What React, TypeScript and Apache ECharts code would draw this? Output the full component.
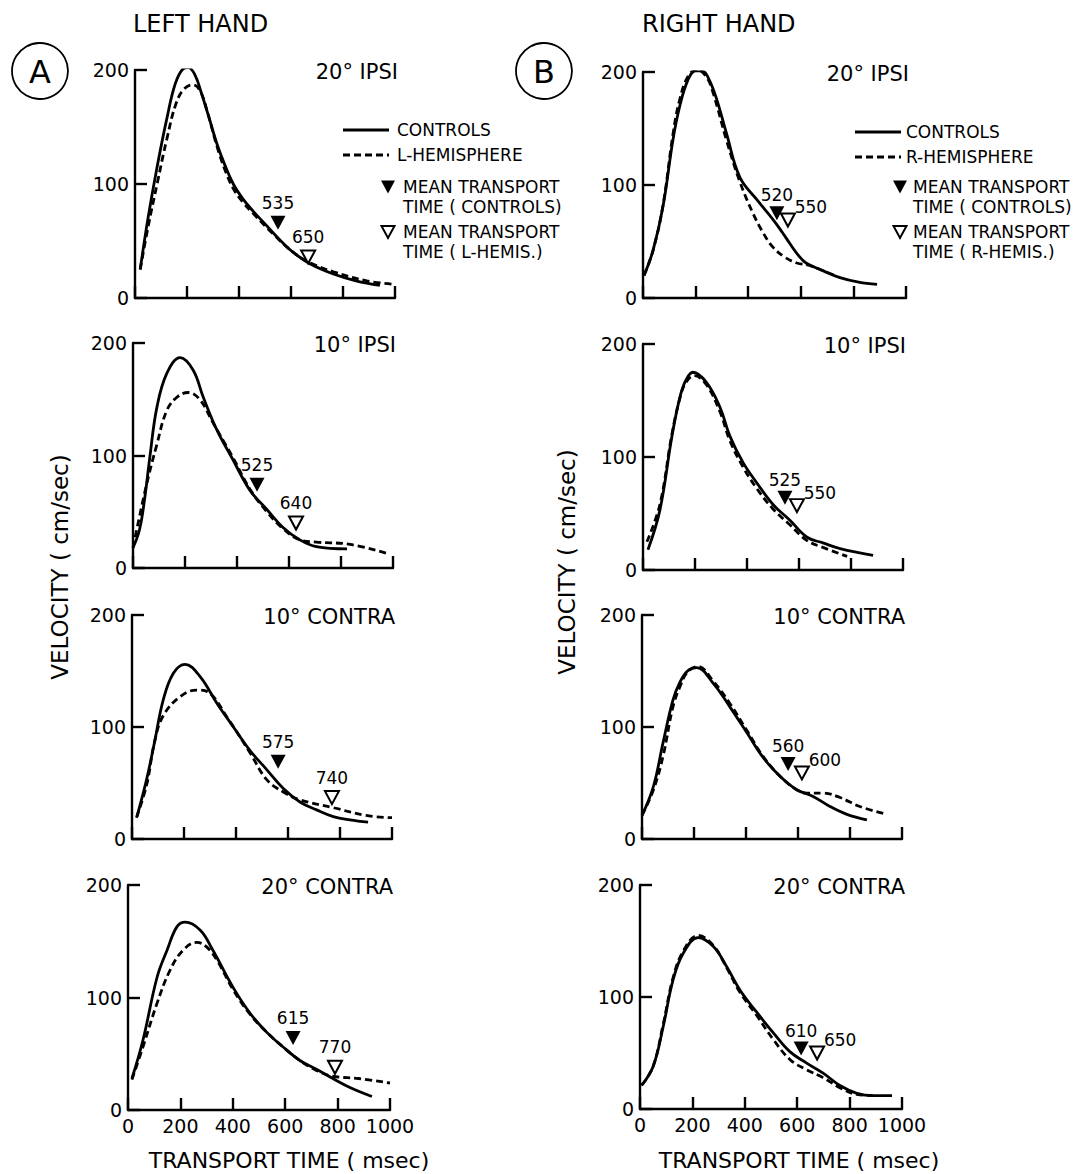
import React, { useEffect, useRef } from "react";
import * as echarts from "echarts";

const FONT = '"DejaVu Sans", "Liberation Sans", sans-serif';

// ---- texts ----
const columnTitles = ["LEFT HAND", "RIGHT HAND"];
const columnLetters = ["A", "B"];
const panelTitles = ["20° IPSI", "10° IPSI", "10° CONTRA", "20° CONTRA"];
const patientNames = ["L-HEMISPHERE", "R-HEMISPHERE"];
const patientShort = ["L-HEMIS.", "R-HEMIS."];
const xAxisTitle = "TRANSPORT TIME ( msec)";
const yAxisTitle = "VELOCITY ( cm/sec)";

// ---- axis ranges ----
const xMin = 0, xMax = 1000, xStep = 200;
const yMin = 0, yMax = 200, yStep = 100;

// ---- curves: [transport time ms, velocity cm/s] ----
const leftCtrl20Ipsi = [[20,25],[50,70],[85,115],[123,158],[155,188],[185,201],[205,202],[230,196],[255,180],[285,158],[314,136],[345,117],[378,100],[415,87],[455,76],[500,65],[532,57],[570,48],[609,40],[673,30],[763,21],[850,15],[942,11]];
const leftHemi20Ipsi = [[20,25],[50,62],[85,100],[123,140],[160,172],[192,184],[223,187],[250,182],[280,162],[314,134],[345,113],[378,96],[415,84],[455,74],[532,56],[609,40],[673,31],[763,23],[892,15],[1000,12]];

const leftCtrl10Ipsi = [[0,18],[25,34],[45,62],[65,99],[92,143],[130,173],[181,187],[231,176],[270,152],[322,123],[385,96],[450,69],[515,52],[577,36],[642,25],[705,19],[823,17]];
const leftHemi10Ipsi = [[0,18],[50,72],[92,110],[130,140],[170,152],[212,156],[256,150],[308,129],[350,112],[385,98],[450,70],[515,50],[577,35],[642,25],[705,23],[835,21],[977,13]];

const leftCtrl10Contra = [[19,20],[56,53],[88,88],[120,124],[159,148],[204,156],[262,145],[327,121],[390,100],[454,79],[518,62],[582,45],[646,33],[710,26],[774,20],[838,17],[908,15]];
const leftHemi10Contra = [[17,19],[56,48],[88,88],[120,110],[185,127],[250,133],[300,130],[365,109],[454,77],[518,53],[582,42],[646,35],[774,28],[900,21],[1000,19]];

const leftCtrl20Contra = [[15,28],[57,62],[111,118],[149,142],[187,163],[218,167],[275,160],[324,142],[401,109],[466,86],[530,69],[592,56],[656,44],[721,36],[782,28],[847,20],[931,12]];
const leftHemi20Contra = [[15,27],[57,56],[111,95],[160,124],[210,142],[263,149],[300,145],[340,133],[401,107],[466,85],[530,69],[592,56],[656,44],[721,35],[782,30],[880,28],[1000,24]];

const rightCtrl20Ipsi = [[4,20],[38,42],[76,81],[114,140],[139,169],[171,193],[200,201],[225,201],[250,194],[280,176],[317,146],[368,107],[433,87],[496,69],[530,58],[559,48],[590,38],[620,31],[686,24],[749,18],[820,14],[890,12]];
const rightHemi20Ipsi = [[4,20],[38,42],[76,82],[114,145],[139,175],[171,196],[205,202],[240,196],[266,182],[317,140],[368,103],[418,75],[456,58],[494,45],[540,36],[585,31],[630,29],[686,24],[740,19]];

const rightCtrl10Ipsi = [[19,18],[65,53],[111,118],[142,153],[165,168],[192,175],[244,166],[296,144],[335,118],[385,95],[438,77],[500,58],[565,44],[631,29],[692,24],[758,19],[885,13]];
const rightHemi10Ipsi = [[15,25],[65,58],[111,120],[142,152],[165,166],[197,172],[244,164],[296,140],[335,114],[385,91],[438,72],[500,54],[565,40],[631,26],[692,20],[785,12]];

const rightCtrl10Contra = [[0,21],[44,47],[81,86],[119,124],[146,140],[175,150],[210,153],[274,139],[338,118],[403,95],[465,73],[531,56],[595,44],[658,38],[723,29],[788,22],[865,17]];
const rightHemi10Contra = [[0,21],[44,44],[81,74],[119,118],[146,136],[175,149],[215,154],[274,141],[338,121],[403,97],[465,74],[531,56],[595,44],[635,41],[697,41],[762,37],[838,29],[942,22]];

const rightCtrl20Contra = [[6,21],[50,38],[88,73],[126,115],[165,139],[222,153],[280,145],[331,127],[382,106],[447,86],[509,68],[573,51],[636,41],[699,32],[763,21],[828,14],[890,12],[962,12]];
const rightHemi20Contra = [[6,21],[50,38],[88,75],[126,117],[165,141],[222,155],[280,146],[331,126],[382,104],[447,83],[509,62],[573,44],[636,35],[699,28],[763,19],[828,13],[889,12]];

// ---- mean transport times (labels) ----
const leftMeanCtrl = [535, 525, 575, 615];
const leftMeanHemi = [650, 640, 740, 770];
const rightMeanCtrl = [520, 525, 560, 610];
const rightMeanHemi = [550, 550, 600, 650];

// ---- where the mean markers are drawn [ms, cm/s] ----
const leftCtrlMarker = [[550,66],[477,74],[562,69],[630,64]];
const leftHemiMarker = [[666,36],[627,40],[769,37],[790,38]];
const rightCtrlMarker = [[509,75],[546,64],[562,67],[615,54]];
const rightHemiMarker = [[551,69],[592,57],[615,59],[676,50]];

// ---- layout ----
const GRIDS = [
  { left: 135, top: 70, width: 260, height: 228 },
  { left: 133, top: 343, width: 260, height: 225 },
  { left: 132, top: 615, width: 260, height: 224 },
  { left: 128, top: 885, width: 262, height: 225 },
  { left: 643, top: 72, width: 263, height: 226 },
  { left: 643, top: 344, width: 260, height: 226 },
  { left: 642, top: 615, width: 260, height: 224 },
  { left: 640, top: 885, width: 262, height: 224 },
];

const ctrlCurves = [leftCtrl20Ipsi, leftCtrl10Ipsi, leftCtrl10Contra, leftCtrl20Contra, rightCtrl20Ipsi, rightCtrl10Ipsi, rightCtrl10Contra, rightCtrl20Contra];
const hemiCurves = [leftHemi20Ipsi, leftHemi10Ipsi, leftHemi10Contra, leftHemi20Contra, rightHemi20Ipsi, rightHemi10Ipsi, rightHemi10Contra, rightHemi20Contra];
const meanCtrl = [...leftMeanCtrl, ...rightMeanCtrl];
const meanHemi = [...leftMeanHemi, ...rightMeanHemi];
const ctrlMarkers = [...leftCtrlMarker, ...rightCtrlMarker];
const hemiMarkers = [...leftHemiMarker, ...rightHemiMarker];

const LINE_W = 2.8;
const AXIS_W = 2.4;
const DASH = [7, 4];

function buildOption() {
  const grid: any[] = [];
  const xAxis: any[] = [];
  const yAxis: any[] = [];
  const series: any[] = [];
  const graphic: any[] = [];

  GRIDS.forEach((g, i) => {
    const row = i % 4;
    const col = Math.floor(i / 4);
    grid.push({ ...g, containLabel: false });
    xAxis.push({
      gridIndex: i, type: "value", min: xMin, max: xMax, interval: xStep,
      axisLine: { show: true, onZero: false, lineStyle: { color: "#000", width: AXIS_W } },
      axisTick: { show: true, inside: true, length: 12, lineStyle: { color: "#000", width: AXIS_W } },
      axisLabel: { show: row === 3, color: "#000", fontFamily: FONT, fontSize: 19, margin: 6, formatter: (v: number) => String(v) },
      splitLine: { show: false },
    });
    yAxis.push({
      gridIndex: i, type: "value", min: yMin, max: yMax, interval: yStep,
      axisLine: { show: true, onZero: false, lineStyle: { color: "#000", width: AXIS_W } },
      axisTick: { show: true, inside: true, length: 12, lineStyle: { color: "#000", width: AXIS_W } },
      axisLabel: { show: true, color: "#000", fontFamily: FONT, fontSize: 19, margin: 6, formatter: (v: number) => String(v) },
      splitLine: { show: false },
    });
    series.push({
      type: "line", name: "CONTROLS", xAxisIndex: i, yAxisIndex: i, data: ctrlCurves[i],
      smooth: 0.4, showSymbol: false, lineStyle: { color: "#000", width: LINE_W }, z: 3,
    });
    series.push({
      type: "line", name: patientNames[col], xAxisIndex: i, yAxisIndex: i, data: hemiCurves[i],
      smooth: 0.4, showSymbol: false, lineStyle: { color: "#000", width: LINE_W, type: DASH }, z: 3,
    });
    const openOffset = col === 0 ? [0, -20] : [23, -13];
    series.push({
      type: "scatter", xAxisIndex: i, yAxisIndex: i, z: 5,
      symbol: "triangle", symbolRotate: 180, symbolSize: [15, 14],
      itemStyle: { color: "#000", opacity: 1 },
      label: { show: true, position: "inside", offset: col === 0 ? [0, -20] : [0, -18], color: "#000", opacity: 1, fontFamily: FONT, fontSize: 17, formatter: () => String(meanCtrl[i]) },
      emphasis: { disabled: true },
      data: [ctrlMarkers[i]],
    });
    series.push({
      type: "scatter", xAxisIndex: i, yAxisIndex: i, z: 5,
      symbol: "triangle", symbolRotate: 180, symbolSize: [14, 13],
      itemStyle: { color: "#fff", borderColor: "#000", borderWidth: 2, opacity: 1 },
      label: { show: true, position: "inside", offset: openOffset, color: "#000", opacity: 1, fontFamily: FONT, fontSize: 17, formatter: () => String(meanHemi[i]) },
      emphasis: { disabled: true },
      data: [hemiMarkers[i]],
    });
    graphic.push({
      type: "text", x: g.left + g.width + 3, y: g.top + 2,
      style: { text: panelTitles[row], fill: "#000", font: `21px ${FONT}`, textAlign: "right", textVerticalAlign: "middle" },
    });
  });

  // column headers and circled letters
  const headerX = [133, 642];
  const circleX = [40, 544];
  [0, 1].forEach((c) => {
    graphic.push({ type: "text", x: headerX[c], y: 24, style: { text: columnTitles[c], fill: "#000", font: `24px ${FONT}`, textAlign: "left", textVerticalAlign: "middle" } });
    graphic.push({ type: "circle", shape: { cx: circleX[c], cy: 71, r: 28 }, style: { fill: "none", stroke: "#000", lineWidth: 1.8 } });
    graphic.push({ type: "text", x: circleX[c], y: 72, style: { text: columnLetters[c], fill: "#000", font: `32px ${FONT}`, textAlign: "center", textVerticalAlign: "middle" } });
  });

  // legends
  const legendPos = [
    { lx: 343, tx: 397, triX: 388, ttx: 403, y0: 130 },
    { lx: 855, tx: 906, triX: 900, ttx: 913, y0: 132 },
  ];
  legendPos.forEach((p, c) => {
    const f = `17px ${FONT}`;
    graphic.push({ type: "line", shape: { x1: p.lx, y1: p.y0, x2: p.lx + 46, y2: p.y0 }, style: { stroke: "#000", lineWidth: LINE_W } });
    graphic.push({ type: "text", x: p.tx, y: p.y0, style: { text: "CONTROLS", fill: "#000", font: f, textVerticalAlign: "middle" } });
    graphic.push({ type: "line", shape: { x1: p.lx, y1: p.y0 + 25, x2: p.lx + 46, y2: p.y0 + 25 }, style: { stroke: "#000", lineWidth: LINE_W, lineDash: DASH } });
    graphic.push({ type: "text", x: p.tx, y: p.y0 + 25, style: { text: patientNames[c], fill: "#000", font: f, textVerticalAlign: "middle" } });
    const t1 = 187, t2 = 232;
    graphic.push({ type: "polygon", shape: { points: [[p.triX - 7, t1 - 6.5], [p.triX + 7, t1 - 6.5], [p.triX, t1 + 6.5]] }, style: { fill: "#000" } });
    graphic.push({ type: "text", x: p.ttx, y: t1, style: { text: "MEAN TRANSPORT", fill: "#000", font: f, textVerticalAlign: "middle" } });
    graphic.push({ type: "text", x: p.ttx, y: t1 + 20, style: { text: "TIME ( CONTROLS)", fill: "#000", font: f, textVerticalAlign: "middle" } });
    graphic.push({ type: "polygon", shape: { points: [[p.triX - 6.5, t2 - 6], [p.triX + 6.5, t2 - 6], [p.triX, t2 + 6]] }, style: { fill: "#fff", stroke: "#000", lineWidth: 2 } });
    graphic.push({ type: "text", x: p.ttx, y: t2, style: { text: "MEAN TRANSPORT", fill: "#000", font: f, textVerticalAlign: "middle" } });
    graphic.push({ type: "text", x: p.ttx, y: t2 + 20, style: { text: `TIME ( ${patientShort[c]})`, fill: "#000", font: f, textVerticalAlign: "middle" } });
  });

  // axis titles
  const yTitlePos = [[60, 567], [567, 562]];
  const xTitlePos = [[289, 1160], [799, 1160]];
  [0, 1].forEach((c) => {
    graphic.push({ type: "text", x: yTitlePos[c][0], y: yTitlePos[c][1], rotation: Math.PI / 2, style: { text: yAxisTitle, fill: "#000", font: `23px ${FONT}`, textAlign: "center", textVerticalAlign: "middle" } });
    graphic.push({ type: "text", x: xTitlePos[c][0], y: xTitlePos[c][1], style: { text: xAxisTitle, fill: "#000", font: `22px ${FONT}`, textAlign: "center", textVerticalAlign: "middle" } });
  });

  return { animation: false, backgroundColor: "#fff", grid, xAxis, yAxis, series, graphic };
}

export default function App() {
  const ref = useRef<HTMLDivElement>(null);
  useEffect(() => {
    document.body.style.margin = "0";
    if (!ref.current) return;
    const chart = echarts.init(ref.current, null, { renderer: "svg" });
    chart.setOption(buildOption() as any);
    return () => chart.dispose();
  }, []);
  return <div ref={ref} style={{ position: "absolute", left: 0, top: 0, width: 1079, height: 1174, background: "#fff" }} />;
}
